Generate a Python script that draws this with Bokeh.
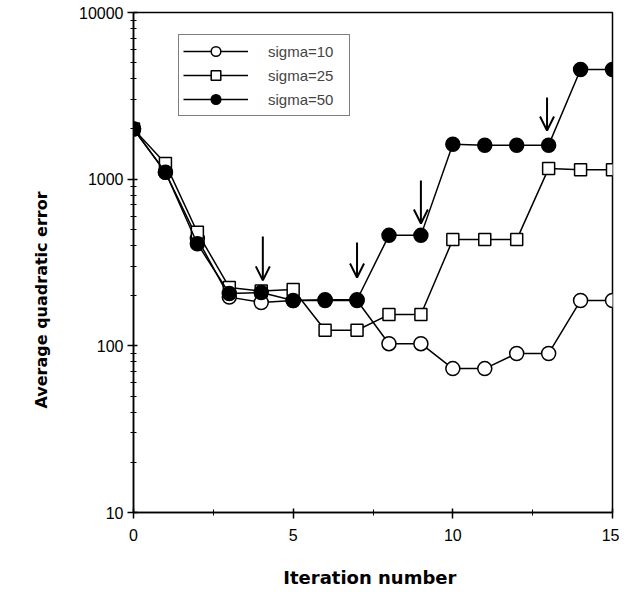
from bokeh.plotting import figure
from bokeh.models import FixedTicker, Legend, LegendItem, Arrow, OpenHead, Title
from bokeh.embed import file_html
from bokeh.resources import INLINE

iterations = list(range(16))
sigma10 = [2000, 1100, 440, 196, 182, 187, 187, 187, 103, 103, 73, 73, 90, 90, 187, 187]
sigma25 = [2000, 1240, 480, 224, 213, 218, 124, 124, 154, 154, 434, 434, 434, 1160, 1140, 1140]
sigma50 = [2000, 1100, 410, 206, 209, 187, 189, 189, 460, 460, 1620, 1600, 1600, 1600, 4550, 4550]

arrow_x = [4.05, 7.0, 9.0, 12.95]
arrow_top = [453, 417, 982, 3090]
arrow_tip = [247, 257, 542, 1960]

y_ticks = [10, 100, 1000, 10000]
y_minor = [m * d for d in [10, 100, 1000] for m in range(2, 10)]
x_ticks = [0, 5, 10, 15]
x_minor = [2.5, 7.5, 12.5]

FONT = "Liberation Sans"
LABEL_FONT = "DejaVu Sans"

p = figure(width=619, height=592, y_axis_type="log", x_range=(0, 15), y_range=(10, 10000),
           output_backend="svg", toolbar_location=None,
           min_border_left=133, min_border_right=7, min_border_top=12, min_border_bottom=80)
p.grid.visible = False
p.outline_line_color = "black"
p.outline_line_width = 1.5
p.background_fill_color = "white"
p.border_fill_color = "white"

p.xaxis.ticker = FixedTicker(ticks=x_ticks, minor_ticks=x_minor)
p.yaxis.ticker = FixedTicker(ticks=y_ticks, minor_ticks=y_minor)
p.yaxis.major_label_overrides = {t: str(t) for t in y_ticks}

for ax in (p.xaxis, p.yaxis):
    ax.axis_line_width = 1.5
    ax.axis_line_color = "black"
    ax.major_tick_line_width = 1.5
    ax.minor_tick_line_width = 1
    ax.major_tick_in = 4
    ax.major_tick_out = 6
    ax.minor_tick_in = 3
    ax.minor_tick_out = 3
    ax.major_label_text_font = FONT
    ax.major_label_text_font_size = "16px"
    ax.major_label_text_color = "black"
    ax.axis_label_text_font = LABEL_FONT
    ax.axis_label_text_font_style = "bold"
    ax.axis_label_text_font_size = "18px"
    ax.axis_label_text_color = "black"

p.xaxis.axis_label = "Iteration  number"
p.xaxis.axis_label_standoff = 23
p.xaxis.major_label_standoff = 10
p.yaxis.major_label_standoff = 4

ytitle = Title(text="Average  quadratic  error", align="left", offset=104,
               text_font=LABEL_FONT, text_font_style="bold",
               text_font_size="16px", text_color="black", standoff=51)
p.add_layout(ytitle, "left")

l1 = p.line(iterations, sigma10, line_color="black", line_width=1.5)
s1 = p.scatter(iterations, sigma10, marker="circle", size=14, fill_color="white",
               line_color="black", line_width=1.5)
l2 = p.line(iterations, sigma25, line_color="black", line_width=1.5)
s2 = p.scatter(iterations, sigma25, marker="square", size=12, fill_color="white",
               line_color="black", line_width=1.5)
l3 = p.line(iterations, sigma50, line_color="black", line_width=1.5)
s3 = p.scatter(iterations, sigma50, marker="circle", size=14, fill_color="black",
               line_color="black", line_width=1.5)

for xa, yt, yh in zip(arrow_x, arrow_top, arrow_tip):
    p.add_layout(Arrow(end=OpenHead(size=14, line_width=2, line_color="black"),
                       x_start=xa, y_start=yt, x_end=xa, y_end=yh,
                       line_width=2, line_color="black"))

legend = Legend(items=[LegendItem(label="sigma=10", renderers=[l1, s1]),
                       LegendItem(label="sigma=25", renderers=[l2, s2]),
                       LegendItem(label="sigma=50", renderers=[l3, s3])],
                location=(45, 396))
legend.border_line_color = "black"
legend.border_line_width = 1.5
legend.label_text_font = FONT
legend.label_text_font_size = "15px"
legend.glyph_width = 65
legend.glyph_height = 24
legend.label_standoff = 20
legend.label_width = 77
legend.padding = 4
legend.spacing = 0
legend.margin = 0
legend.background_fill_alpha = 1
p.add_layout(legend, "center")

open("out.html", "w").write(file_html(p, INLINE))
